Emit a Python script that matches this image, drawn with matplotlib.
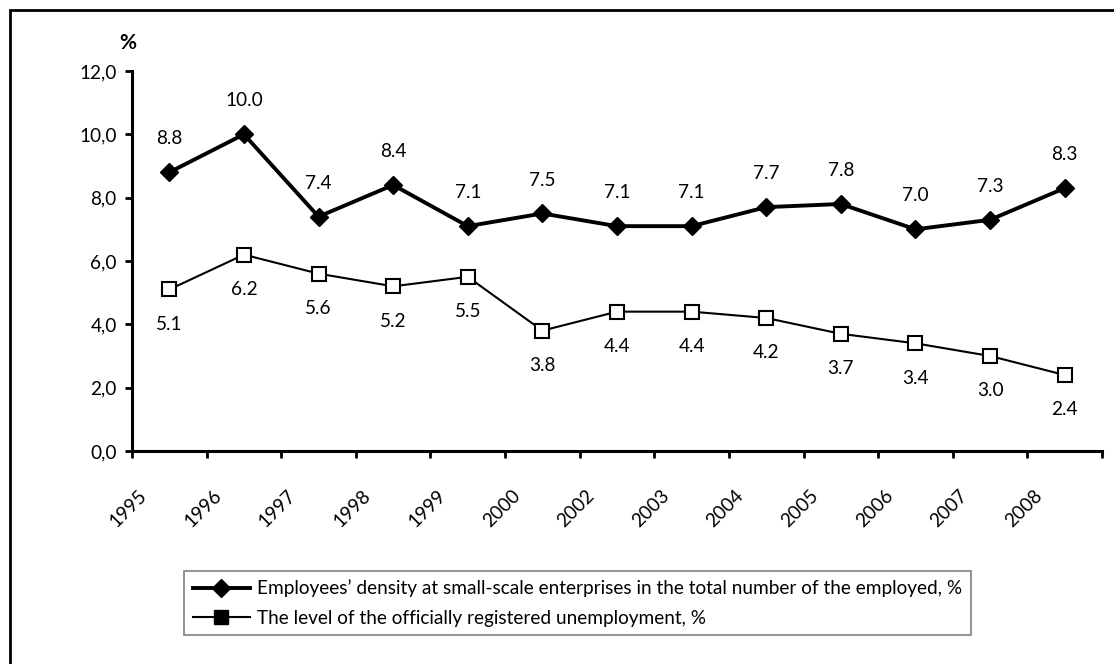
import matplotlib.pyplot as plt
import matplotlib.patches as patches
from matplotlib.lines import Line2D
from matplotlib.ticker import FuncFormatter
from matplotlib.transforms import ScaledTranslation

plt.rcParams['font.family'] = ['Lato', 'DejaVu Sans']

# data
years = ['1995', '1996', '1997', '1998', '1999', '2000', '2002', '2003',
         '2004', '2005', '2006', '2007', '2008']
small_firms = [8.8, 10.0, 7.4, 8.4, 7.1, 7.5, 7.1, 7.1, 7.7, 7.8, 7.0, 7.3, 8.3]
unemployment = [5.1, 6.2, 5.6, 5.2, 5.5, 3.8, 4.4, 4.4, 4.2, 3.7, 3.4, 3.0, 2.4]

label_small = 'Employees’ density at small-scale enterprises in the total number of the employed, %'
label_unemp = 'The level of the officially registered unemployment, %'

FS = 13.7

fig = plt.figure(figsize=(11.14, 6.64), dpi=100)
ax = fig.add_axes([0.1185, 0.3208, 0.9892 - 0.1185, 0.8931 - 0.3208])

xs = [i + 0.5 for i in range(len(years))]

ax.plot(xs, small_firms, color='black', lw=2.8, marker='D', ms=9,
        mfc='black', mec='black', zorder=3)
ax.plot(xs, unemployment, color='black', lw=1.5, marker='s', ms=9.5,
        mfc='white', mec='black', mew=1.5, zorder=3)

# value labels: above for the first series, below for the second
for x, v in zip(xs, small_firms):
    ax.annotate(f'{v:.1f}', (x, v), xytext=(0, 24), textcoords='offset points',
                ha='center', va='center', fontsize=FS)
for x, v in zip(xs, unemployment):
    ax.annotate(f'{v:.1f}', (x, v), xytext=(0, -25), textcoords='offset points',
                ha='center', va='center', fontsize=FS)

ax.set_xlim(0, len(years))
ax.set_ylim(0, 12)
ax.set_yticks(range(0, 13, 2))
ax.yaxis.set_major_formatter(FuncFormatter(lambda v, p: f'{v:.1f}'.replace('.', ',')))
ax.set_xticks(range(len(years) + 1))
ax.set_xticklabels(years + [''])

for s in ['top', 'right']:
    ax.spines[s].set_visible(False)
for s in ['left', 'bottom']:
    ax.spines[s].set_linewidth(2.2)

ax.tick_params(axis='both', direction='out', length=5, width=2, labelsize=FS)
ax.tick_params(axis='y', pad=6)
ax.tick_params(axis='x', pad=0)

shift = ScaledTranslation(12 / 100, -35 / 100, fig.dpi_scale_trans)
for lab in ax.get_xticklabels():
    lab.set_rotation(45)
    lab.set_ha('right')
    lab.set_va('center')
    lab.set_rotation_mode('anchor')
    lab.set_transform(lab.get_transform() + shift)

fig.text(128 / 1114, 1 - 43 / 664, '%', fontsize=15, fontweight='bold',
         ha='center', va='center')

handles = [
    Line2D([], [], color='black', lw=2.8, marker='D', ms=9, mfc='black'),
    Line2D([], [], color='black', lw=1.5, marker='s', ms=9.5, mfc='black'),
]
leg = fig.legend(handles, [label_small, label_unemp], loc='center',
                 bbox_to_anchor=(0.5184, 1 - 603 / 664), fontsize=FS,
                 frameon=True, fancybox=False, edgecolor='#808080',
                 framealpha=1, handlelength=3, labelspacing=0.65,
                 borderpad=0.45, handletextpad=0.4)
leg.get_frame().set_linewidth(1.2)

# outer frame, cut off at right and bottom like the reference
fig.patches.append(patches.Rectangle((10 / 1114, -0.2), 1.2, 1.2 - 10 / 664,
                                     transform=fig.transFigure, fill=False,
                                     edgecolor='black', lw=2))

fig.savefig('out.png', dpi=100)
